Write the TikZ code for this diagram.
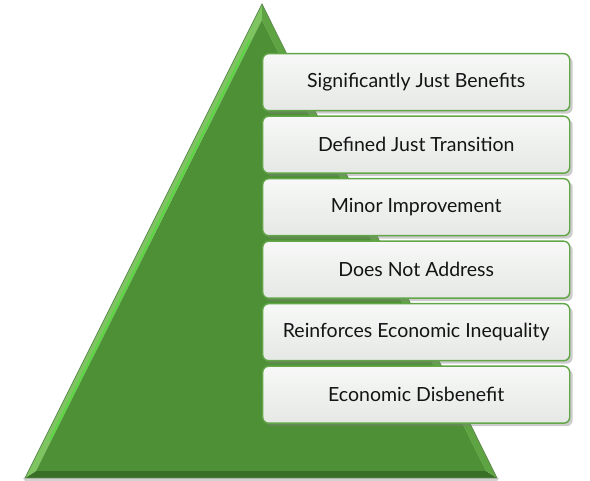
\documentclass[tikz,border=0pt]{standalone}
\usepackage{fontspec}
\setmainfont{Lato}
\usetikzlibrary{shadows}
\definecolor{leafgreen}{RGB}{78,144,54}
\definecolor{leaflight}{RGB}{126,196,96}
\definecolor{leafmid}{RGB}{94,164,66}
\definecolor{leafdark}{RGB}{56,110,38}
\definecolor{tieredge}{RGB}{98,166,72}
\definecolor{tiertop}{RGB}{247,248,247}
\definecolor{tierbottom}{RGB}{229,232,229}

\begin{document}
\begin{tikzpicture}[x=1pt,y=-1pt,
    tier/.style={draw=tieredge, line width=1.4pt, rounded corners=6pt,
      minimum width=307pt, minimum height=57pt, anchor=north west,
      top color=tiertop, bottom color=tierbottom,
      drop shadow={shadow xshift=3pt, shadow yshift=-3pt, opacity=0.4},
      font=\fontsize{19.5}{22}\selectfont, text=black!92}]
  \useasboundingbox (0,0) rectangle (590,481);

  % pyramid corners, outer and bevel
  \coordinate (apex) at (262,4);
  \coordinate (left) at (25,478);
  \coordinate (right) at (497,478);
  \coordinate (inapex) at (262,20);
  \coordinate (inleft) at (36,471);
  \coordinate (inright) at (486,471);

  \fill[black!35, opacity=0.5] (25,481) -- (497,481) -- (499,478) -- (23,478) -- cycle;
  \fill[leafdark] (left) -- (right) -- (inright) -- (inleft) -- cycle;
  \fill[leaflight] (left) -- (apex) -- (inapex) -- (inleft) -- cycle;
  \fill[leafmid] (apex) -- (right) -- (inright) -- (inapex) -- cycle;
  \fill[leafgreen] (inapex) -- (inright) -- (inleft) -- cycle;
  \draw[leafdark!80, line width=0.8pt] (left) -- (apex) -- (right) -- cycle;
  \draw[green!30!leaflight, line width=2pt, line cap=round] (50,440) -- (250,40);

  \node (benefits) [tier] at (262,53) {Significantly Just Benefits};
  \node (transition) [tier] at (262,115.5) {Defined Just Transition};
  \node (minor) [tier] at (262,178) {Minor Improvement};
  \node (noaddress) [tier] at (262,240.5) {Does Not Address};
  \node (inequality) [tier] at (262,303) {Reinforces Economic Inequality};
  \node (disbenefit) [tier] at (262,365.5) {Economic Disbenefit};
\end{tikzpicture}
\end{document}
